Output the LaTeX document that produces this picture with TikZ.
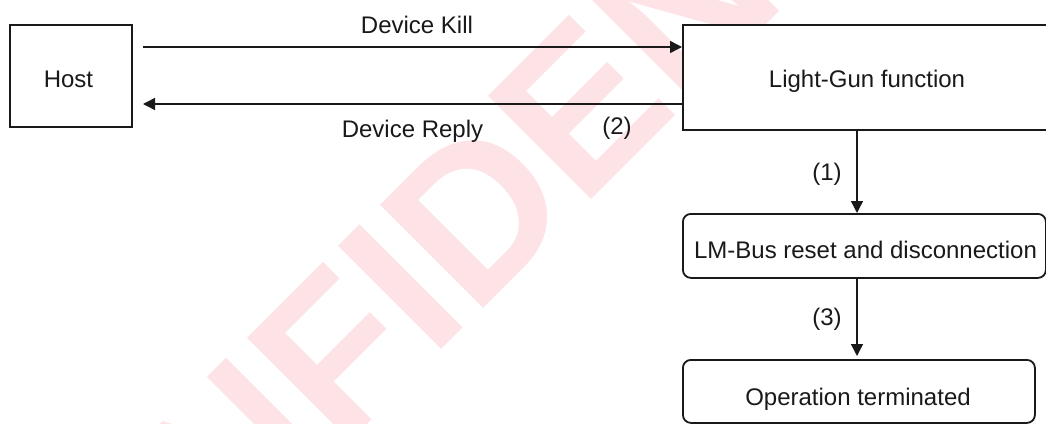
\documentclass[tikz,border=0pt]{standalone}
\usepackage{fontspec}
\setmainfont{Liberation Sans}
\usetikzlibrary{arrows.meta}
\definecolor{wm}{RGB}{253,227,230}
\definecolor{ink}{RGB}{25,25,25}
\begin{document}
\begin{tikzpicture}[x=1pt,y=-1pt,
  box/.style={draw=ink, line width=1.8pt, fill=white, inner sep=0pt, anchor=north west},
  rbox/.style={box, rounded corners=8pt},
  lbl/.style={font=\fontsize{24}{28}\selectfont, text=ink, inner sep=0pt, anchor=base},
  arr/.style={draw=ink, line width=1.4pt, -{Triangle[length=12pt,width=12pt]}},
  mark/.style={}
]
\useasboundingbox (0,0) rectangle (1046,423);
\clip (0,0) rectangle (1046,423);
\node[text=wm, font=\bfseries\fontsize{212}{240}\selectfont, inner sep=0pt, anchor=base west, rotate=45] (wmark) at (7,784.5) {CONFIDENTIAL};
% boxes
\node[box, minimum width=122pt, minimum height=102pt] (host) at (9,24) {};
\node[box, minimum width=370pt, minimum height=105pt] (lg) at (682,24) {};
\node[rbox, minimum width=363pt, minimum height=64pt] (lm) at (682,213) {};
\node[rbox, minimum width=352pt, minimum height=63pt] (op) at (682,359) {};
% texts
\node[lbl] (hostt) at (68.5,87) {Host};
\node[lbl] (lgt) at (867,87) {Light-Gun function};
\node[lbl] (lmt) at (865.5,258) {LM-Bus reset and disconnection};
\node[lbl] (opt) at (858,405) {Operation terminated};
\node[lbl] (kill) at (417,33) {Device Kill};
\node[lbl] (reply) at (412.5,137) {Device Reply};
\node[lbl] (n2) at (617,134) {(2)};
\node[lbl] (n1) at (827,180) {(1)};
\node[lbl] (n3) at (827,325) {(3)};
% connectors
\coordinate (k0) at (143,47);
\draw[arr] (k0) -- (k0 -| lg.west);
\coordinate (r0) at (143,104);
\draw[arr] (r0 -| lg.west) -- (r0);
\coordinate (v) at (857,0);
\draw[arr] (v |- lg.south) -- (v |- lm.north);
\draw[arr, shorten >=3pt] (v |- lm.south) -- (v |- op.north);
\end{tikzpicture}
\end{document}
